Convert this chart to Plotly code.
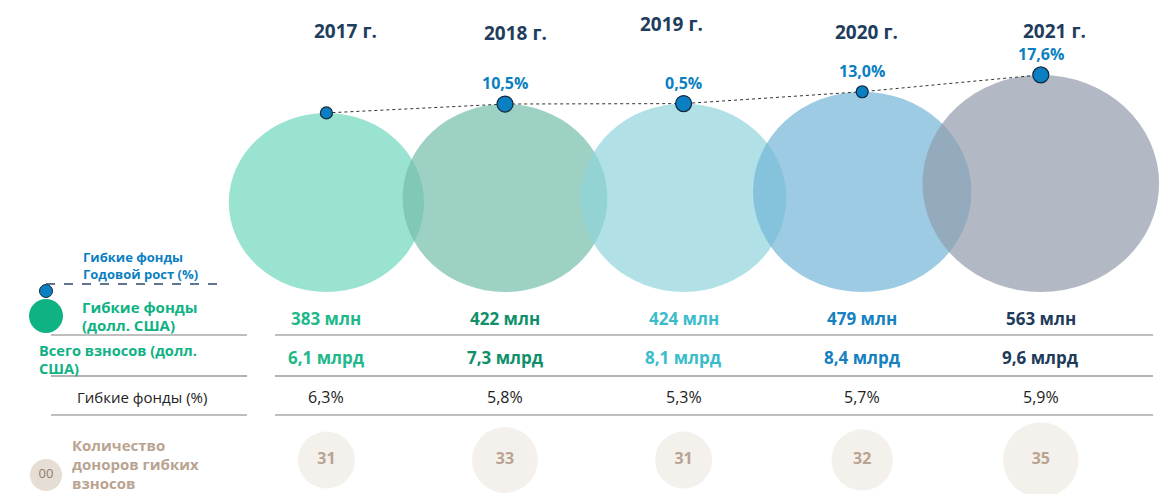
import math
import plotly.graph_objects as go

# ---------------- data ----------------
years = [2017, 2018, 2019, 2020, 2021]
year_labels = ["2017 г.", "2018 г.", "2019 г.", "2020 г.", "2021 г."]
flex_funds_mln = [383, 422, 424, 479, 563]          # Гибкие фонды (долл. США), млн
total_contrib_bln = [6.1, 7.3, 8.1, 8.4, 9.6]       # Всего взносов (долл. США), млрд
flex_share_pct = [6.3, 5.8, 5.3, 5.7, 5.9]          # Гибкие фонды (%)
flex_growth_pct = [None, 10.5, 0.5, 13.0, 17.6]     # Годовой рост (%)
donors_count = [31, 33, 31, 32, 35]                 # Количество доноров гибких взносов

# ---------------- styles ----------------
W, H = 1162, 494
PX_PER_YEAR = 178.6
X_2017_PX = 326.4
X_RANGE = [2017 - X_2017_PX / PX_PER_YEAR, 2017 + (W - X_2017_PX) / PX_PER_YEAR]

FONT = "Open Sans"
YEAR_COLORS = ["#21b98a", "#0f8f6a", "#3bbccb", "#1681c1", "#1e3b5a"]
BUBBLE_COLORS = ["rgb(111,215,188)", "rgb(115,189,171)", "rgb(144,212,219)",
                 "rgb(114,181,215)", "rgb(146,155,172)"]
NAVY = "#1f3d5c"
BLUE = "#0b7fc1"
GREEN = "#0fb283"
BEIGE_TXT = "#b9a391"
BUBBLE_OPACITY = 0.7
BUBBLE_BASE = 292          # bubbles stand on this baseline (px from top)
BUBBLE_K = 9.15            # vertical diameter = K * sqrt(value)
BUBBLE_ASPECT = 1.09       # bubbles are slightly wider than tall
ROW_Y = {"flex": 318, "total": 357, "share": 397, "donors": 460}
HEADER_Y = [31, 33, 24, 32, 31]
HEADER_XSHIFT = [19, 10, -12, 4, 14]
GROWTH_DOT_SIZES = [12, 16, 16, 12, 16]


def fmt(v):
    return f"{v:.1f}".replace(".", ",")


fig = go.Figure()

# ---------- bubbles (flexible funds) ----------
tops = []
for yr, v, c in zip(years, flex_funds_mln, BUBBLE_COLORS):
    dv = BUBBLE_K * math.sqrt(v)
    dh = dv * BUBBLE_ASPECT
    tops.append(BUBBLE_BASE - dv)
    fig.add_shape(type="circle", xref="x", yref="y",
                  x0=yr - dh / 2 / PX_PER_YEAR, x1=yr + dh / 2 / PX_PER_YEAR,
                  y0=BUBBLE_BASE - dv, y1=BUBBLE_BASE,
                  fillcolor=c, opacity=BUBBLE_OPACITY, line=dict(width=0),
                  layer="below")

# ---------- growth line + dots ----------
fig.add_trace(go.Scatter(
    x=years, y=tops, mode="lines+markers",
    line=dict(color="#333333", width=1, dash="dot"),
    marker=dict(size=GROWTH_DOT_SIZES, color="#0a7fc2", opacity=1,
                line=dict(color="#14263a", width=1.2)),
    hoverinfo="skip"))

for yr, g, t in zip(years, flex_growth_pct, tops):
    if g is None:
        continue
    fig.add_annotation(x=yr, y=t - 21, xref="x", yref="y", text=f"<b>{fmt(g)}%</b>",
                       showarrow=False, font=dict(family=FONT, size=16, color=BLUE))

# ---------- year headers ----------
for yr, lab, hy, xs in zip(years, year_labels, HEADER_Y, HEADER_XSHIFT):
    fig.add_annotation(x=yr, y=hy, xref="x", yref="y", xshift=xs, text=f"<b>{lab}</b>",
                       showarrow=False, font=dict(family=FONT, size=19, color=NAVY))

# ---------- table rows ----------
for yr, v, tb, sh, c in zip(years, flex_funds_mln, total_contrib_bln, flex_share_pct, YEAR_COLORS):
    fig.add_annotation(x=yr, y=ROW_Y["flex"], xref="x", yref="y", text=f"<b>{v} млн</b>",
                       showarrow=False, font=dict(family=FONT, size=17, color=c))
    fig.add_annotation(x=yr, y=ROW_Y["total"], xref="x", yref="y", text=f"<b>{fmt(tb)} млрд</b>",
                       showarrow=False, font=dict(family=FONT, size=17, color=c))
    fig.add_annotation(x=yr, y=ROW_Y["share"], xref="x", yref="y", text=f"{fmt(sh)}%",
                       showarrow=False, font=dict(family=FONT, size=16, color="#222222"))

# ---------- donor circles ----------
fig.add_trace(go.Scatter(
    x=years, y=[ROW_Y["donors"]] * len(years), mode="markers+text",
    marker=dict(size=[57 * (n / 31) ** 2.3 for n in donors_count], color="#f0ebe6",
                line=dict(width=0)),
    text=[f"<b>{n}</b>" for n in donors_count], textposition="middle center",
    textfont=dict(family=FONT, size=16, color=BEIGE_TXT), hoverinfo="skip"))

# ---------- row separator lines ----------
for ly, col in [(335, "#aaaaaa"), (376, "#999999"), (415, "#aaaaaa")]:
    for xa, xb in [(51, 247), (275, 1153)]:
        fig.add_shape(type="line", xref="x2", yref="y", x0=xa, x1=xb, y0=ly, y1=ly,
                      line=dict(color=col, width=1.5))

# ---------- left-side legend ----------
fig.add_shape(type="line", xref="x2", yref="y", x0=46, x1=223, y0=284, y1=284,
              line=dict(color="#2b4a6b", width=1.3, dash="dash"))
fig.add_trace(go.Scatter(x=[46], y=[291], xaxis="x2", mode="markers",
                         marker=dict(size=13, color="#0a7fc2", line=dict(color="#14263a", width=1)),
                         hoverinfo="skip"))
fig.add_trace(go.Scatter(x=[46], y=[316], xaxis="x2", mode="markers",
                         marker=dict(size=34, color=GREEN, line=dict(width=0)), hoverinfo="skip"))
fig.add_trace(go.Scatter(x=[46], y=[475], xaxis="x2", mode="markers+text",
                         marker=dict(size=32, color="#e6ddd4", line=dict(width=0)),
                         text=["00"], textposition="middle center",
                         textfont=dict(family=FONT, size=13, color="#8c7f72"), hoverinfo="skip"))

legend_texts = [
    (81, 257, "<b>Гибкие фонды</b>", 13, BLUE),
    (81, 274, "<b>Годовой рост (%)</b>", 13, BLUE),
    (80, 307, "<b>Гибкие фонды</b>", 15, GREEN),
    (80, 325, "<b>(долл. США)</b>", 15, GREEN),
    (37, 350, "<b>Всего взносов (долл.</b>", 14.6, GREEN),
    (37, 368, "<b>США)</b>", 14.6, GREEN),
    (75, 397, "Гибкие фонды (%)", 15, "#222222"),
    (70, 445, "<b>Количество</b>", 15, BEIGE_TXT),
    (70, 464, "<b>доноров гибких</b>", 15, BEIGE_TXT),
    (70, 483, "<b>взносов</b>", 15, BEIGE_TXT),
]
for lx, ly, t, s, c in legend_texts:
    fig.add_annotation(x=lx, y=ly, xref="x2", yref="y", text=t, xanchor="left", yanchor="middle",
                       showarrow=False, font=dict(family=FONT, size=s, color=c))

fig.update_layout(
    width=W, height=H, margin=dict(l=0, r=0, t=0, b=0),
    paper_bgcolor="white", plot_bgcolor="white", showlegend=False,
    xaxis=dict(range=X_RANGE, visible=False, fixedrange=True),
    xaxis2=dict(range=[0, W], overlaying="x", visible=False, fixedrange=True),
    yaxis=dict(range=[H, 0], visible=False, fixedrange=True),
)

fig.write_html("out.html", config={"displayModeBar": False},
               post_script="document.body.style.margin='0';document.body.style.overflow='hidden';")
